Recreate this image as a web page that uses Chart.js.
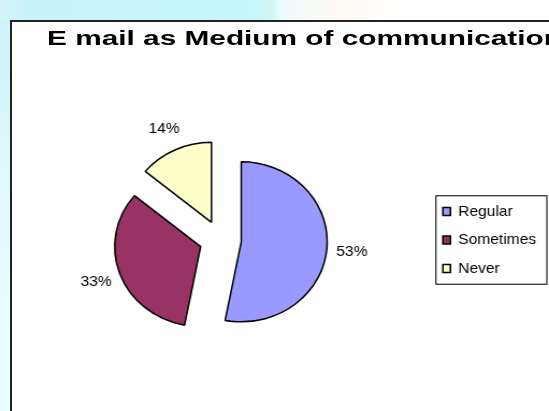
<!DOCTYPE html>
<html>
<head>
<meta charset="utf-8">
<title>E mail as Medium of communication</title>
<script src="https://cdn.jsdelivr.net/npm/chart.js@4.4.1/dist/chart.umd.min.js"></script>
<style>
  html, body { margin: 0; padding: 0; }
  body {
    position: relative;
    width: 549px;
    height: 411px;
    overflow: hidden;
    background: #fff;
    font-family: "Liberation Sans", Arial, sans-serif;
  }
  /* slide background peeking out around the chart frame */
  #topBand {
    position: absolute; left: 0; top: 0; width: 549px; height: 20px;
    background: linear-gradient(to right, #d6f5fa 0px, #c8f3f9 30px, #c6f7fa 255px,
      #d2f6f3 272px, #eefdfd 282px, #fffaf2 340px, #ffffff 400px);
  }
  #leftBand {
    position: absolute; left: 0; top: 20px; width: 10px; height: 391px;
    background: linear-gradient(to bottom, #cdf3f8 0px, #e2fafc 180px, #ebfefe 391px);
  }
  #frame {
    position: absolute; left: 10px; top: 20px; width: 560px; height: 420px;
    background: #fff;
    border-left: 2px solid #222;
    border-top: 2px solid #222;
  }
  #title {
    position: absolute; left: 47px; top: 28px;
    font: bold 20px/20px "Liberation Sans", Arial, sans-serif;
    color: #000;
    white-space: nowrap;
    transform: scaleX(1.49);
    transform-origin: 0 0;
  }
  #chart { position: absolute; left: 0; top: 0; }
</style>
</head>
<body>
<div id="topBand"></div>
<div id="leftBand"></div>
<div id="frame"></div>
<!-- drawn at 511 wide and shown 549 wide, so the pie comes out slightly oval -->
<canvas id="chart" width="511" height="411" style="width:549px;height:411px"></canvas>
<div id="title">E mail as Medium of communication</div>

<script>
const categories = ['Regular', 'Sometimes', 'Never'];
const shares = [53, 33, 14];
const sliceColors = ['#9999ff', '#993366', '#ffffcc'];

const FONT = '"Liberation Sans", Arial, sans-serif';
const EXPLODE = 19.5;    // how far each slice is pulled out from the centre
const LABEL_GAP = 23.5;  // distance of the % labels beyond the rim

// pull every slice out along its middle angle
const explodeSlices = {
  id: 'explodeSlices',
  afterDatasetUpdate(chart, args) {
    args.meta.data.forEach(arc => {
      const mid = (arc.startAngle + arc.endAngle) / 2;
      arc.x += Math.cos(mid) * EXPLODE;
      arc.y += Math.sin(mid) * EXPLODE;
    });
  }
};

// percentage labels just outside each slice
const sliceLabels = {
  id: 'sliceLabels',
  afterDatasetsDraw(chart) {
    const ctx = chart.ctx;
    const meta = chart.getDatasetMeta(0);
    ctx.save();
    ctx.font = '14.5px ' + FONT;
    ctx.fillStyle = '#000';
    ctx.textAlign = 'center';
    ctx.textBaseline = 'middle';
    meta.data.forEach((arc, i) => {
      const mid = (arc.startAngle + arc.endAngle) / 2;
      const r = arc.outerRadius + LABEL_GAP;
      ctx.fillText(shares[i] + '%', arc.x + Math.cos(mid) * r, arc.y + Math.sin(mid) * r);
    });
    ctx.restore();
  }
};

// thin box around the legend entries
const legendFrame = {
  id: 'legendFrame',
  afterDraw(chart) {
    const boxes = chart.legend && chart.legend.legendHitBoxes;
    if (!boxes || !boxes.length) return;
    const last = boxes[boxes.length - 1];
    const left = Math.min(...boxes.map(b => b.left)) - 6.5;
    const right = Math.max(...boxes.map(b => b.left + b.width)) + 10;
    const top = boxes[0].top - 8.5;
    const bottom = last.top + last.height + 8.5;
    const ctx = chart.ctx;
    ctx.save();
    ctx.strokeStyle = '#222';
    ctx.lineWidth = 1.2;
    ctx.strokeRect(left, top, right - left, bottom - top);
    ctx.restore();
  }
};

new Chart(document.getElementById('chart'), {
  type: 'pie',
  data: {
    labels: categories,
    datasets: [{
      data: shares,
      backgroundColor: sliceColors,
      borderColor: '#000',
      borderWidth: 1.5
    }]
  },
  options: {
    responsive: false,
    animation: false,
    radius: 80,
    layout: { padding: { left: 12, right: 2, top: 80, bottom: 11 } },
    plugins: {
      title: { display: false },
      tooltip: { enabled: false },
      legend: {
        position: 'right',
        labels: {
          color: '#000',
          font: { family: FONT, size: 14.5 },
          boxWidth: 7,
          boxHeight: 8,
          padding: 14
        }
      }
    }
  },
  plugins: [explodeSlices, sliceLabels, legendFrame]
});
</script>
</body>
</html>
